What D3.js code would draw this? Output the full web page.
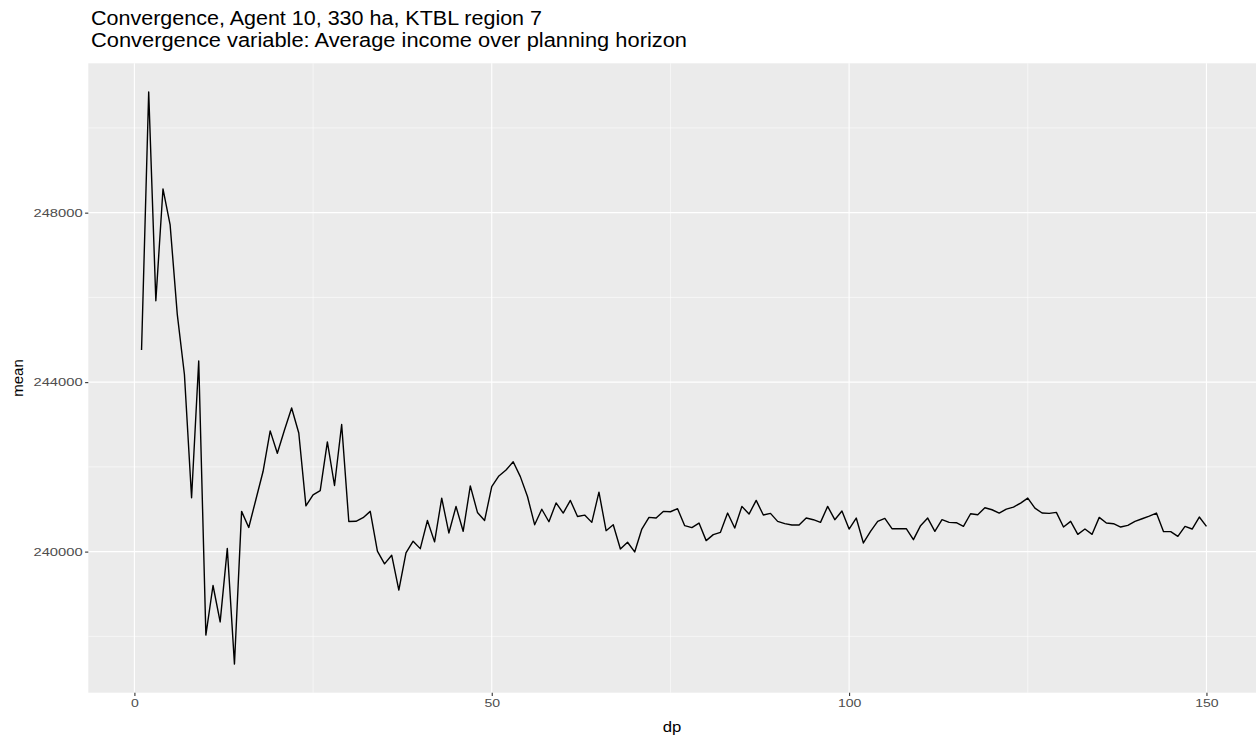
<!DOCTYPE html>
<html>
<head>
<meta charset="utf-8">
<script src="https://cdn.jsdelivr.net/npm/d3@7"></script>
<style>
  html, body { margin: 0; padding: 0; background: #ffffff; }
  svg { display: block; }
  text { font-family: "Liberation Sans", Arial, Helvetica, sans-serif; }
</style>
</head>
<body>
<svg id="chart" width="1256" height="736"></svg>
<script>
// Convergence run: running mean of the objective per decision point
const dp = d3.range(1, 151);
const meanIncome = [
  244760, 250850, 245920, 248560, 247710, 245600, 244180, 241270, 244500, 238030,
  239200, 238340, 240075, 237345, 240950, 240570, 241230, 241890, 242850, 242320,
  242870, 243390, 242800, 241080, 241340, 241440, 242590, 241560, 243000, 240710,
  240715, 240800, 240950, 240010, 239710, 239915, 239090, 239970, 240245, 240070,
  240735, 240230, 241260, 240440, 241065, 240480, 241550, 240925, 240735, 241535,
  241785, 241925, 242120, 241770, 241300, 240635, 241000, 240705, 241150, 240910,
  241208, 240830, 240862, 240690, 241404, 240494, 240635, 240063, 240220, 239992,
  240533, 240808, 240792, 240949, 240941, 241012, 240612, 240565, 240674, 240259,
  240400, 240455, 240910, 240557, 241067, 240886, 241208, 240863, 240902, 240714,
  240659, 240627, 240627, 240792, 240753, 240690, 241067, 240753, 240957, 240533,
  240792, 240204, 240478, 240714, 240784, 240541, 240541, 240541, 240282, 240612,
  240792, 240478, 240753, 240690, 240682, 240596, 240894, 240871, 241035, 240988,
  240910, 241004, 241051, 241145, 241263, 241027, 240910, 240902, 240925, 240580,
  240714, 240408, 240533, 240408, 240808, 240674, 240659, 240580, 240620, 240714,
  240776, 240839, 240910, 240471, 240471, 240361, 240596, 240533, 240816, 240596
];
const xMajorTicks = [0, 50, 100, 150];
const xMinorTicks = [25, 75, 125];
const yMajorTicks = [240000, 244000, 248000];
const yMinorTicks = [238000, 242000, 246000, 250000];
const titleText = "Convergence, Agent 10, 330 ha, KTBL region 7";
const subtitleText = "Convergence variable: Average income over planning horizon";
const xLabel = "dp";
const yLabel = "mean";

const svg = d3.select("#chart");
const panel = { left: 88.3, top: 63.3, bottom: 692.7 };
const xUnit = 7.147; // px per dp

// ggplot-style 5% expansion of the data range
function expand(ext, f) { const p = (ext[1] - ext[0]) * f; return [ext[0] - p, ext[1] + p]; }
const xDom = expand(d3.extent(dp), 0.05);
const yDom = expand(d3.extent(meanIncome), 0.05);
panel.right = panel.left + (xDom[1] - xDom[0]) * xUnit;

const x = d3.scaleLinear().domain(xDom).range([panel.left, panel.right]);
const y = d3.scaleLinear().domain(yDom).range([panel.bottom, panel.top]);

// stretch text horizontally by a factor
function widen(sel, k) {
  sel.each(function () {
    const len = this.getComputedTextLength();
    d3.select(this).attr("textLength", len * k).attr("lengthAdjust", "spacingAndGlyphs");
  });
}

// panel background
svg.append("rect")
  .attr("x", panel.left).attr("y", panel.top)
  .attr("width", panel.right - panel.left).attr("height", panel.bottom - panel.top)
  .attr("fill", "#EBEBEB");

const grid = svg.append("g");
grid.selectAll(".ymin").data(yMinorTicks).join("line")
  .attr("x1", panel.left).attr("x2", panel.right)
  .attr("y1", d => y(d)).attr("y2", d => y(d))
  .attr("stroke", "#ffffff").attr("stroke-width", 0.55);
grid.selectAll(".xmin").data(xMinorTicks).join("line")
  .attr("y1", panel.top).attr("y2", panel.bottom)
  .attr("x1", d => x(d)).attr("x2", d => x(d))
  .attr("stroke", "#ffffff").attr("stroke-width", 0.55);
grid.selectAll(".ymaj").data(yMajorTicks).join("line")
  .attr("x1", panel.left).attr("x2", panel.right)
  .attr("y1", d => y(d)).attr("y2", d => y(d))
  .attr("stroke", "#ffffff").attr("stroke-width", 1.1);
grid.selectAll(".xmaj").data(xMajorTicks).join("line")
  .attr("y1", panel.top).attr("y2", panel.bottom)
  .attr("x1", d => x(d)).attr("x2", d => x(d))
  .attr("stroke", "#ffffff").attr("stroke-width", 1.1);

// the convergence line
const line = d3.line().x((d, i) => x(dp[i])).y(d => y(d));
svg.append("path")
  .datum(meanIncome)
  .attr("d", line)
  .attr("fill", "none")
  .attr("stroke", "#000000")
  .attr("stroke-width", 1.4)
  .attr("stroke-linejoin", "round");

// axes
const xAxis = svg.append("g")
  .attr("transform", `translate(0,${panel.bottom})`)
  .call(d3.axisBottom(x).tickValues(xMajorTicks).tickSize(3.2).tickPadding(2.5).tickFormat(d3.format("d")));
const yAxis = svg.append("g")
  .attr("transform", `translate(${panel.left},0)`)
  .call(d3.axisLeft(y).tickValues(yMajorTicks).tickSize(3.2).tickPadding(2.5).tickFormat(d3.format("d")));
[xAxis, yAxis].forEach(a => {
  a.select(".domain").remove();
  a.selectAll(".tick line").attr("stroke", "#333333").attr("stroke-width", 1.1);
  a.selectAll(".tick text")
    .attr("fill", "#4D4D4D")
    .style("font-size", "11.5px")
    .style("font-family", "'Liberation Sans', Arial, sans-serif");
});
widen(xAxis.selectAll(".tick text"), 1.22);
widen(yAxis.selectAll(".tick text"), 1.28);

// axis titles
svg.append("text")
  .attr("x", 672).attr("y", 731.5)
  .attr("text-anchor", "middle")
  .style("font-size", "14.5px").attr("fill", "#000")
  .text(xLabel).call(widen, 1.15);
svg.append("text")
  .attr("transform", `translate(22.5,${(panel.top + panel.bottom) / 2}) rotate(-90)`)
  .attr("text-anchor", "middle")
  .style("font-size", "15px").attr("fill", "#000")
  .text(yLabel);

// titles
svg.append("text")
  .attr("x", 91).attr("y", 25)
  .style("font-size", "19.5px").attr("fill", "#000")
  .attr("textLength", 451).attr("lengthAdjust", "spacingAndGlyphs")
  .text(titleText);
svg.append("text")
  .attr("x", 91).attr("y", 47)
  .style("font-size", "19.5px").attr("fill", "#000")
  .attr("textLength", 596).attr("lengthAdjust", "spacingAndGlyphs")
  .text(subtitleText);
</script>
</body>
</html>
